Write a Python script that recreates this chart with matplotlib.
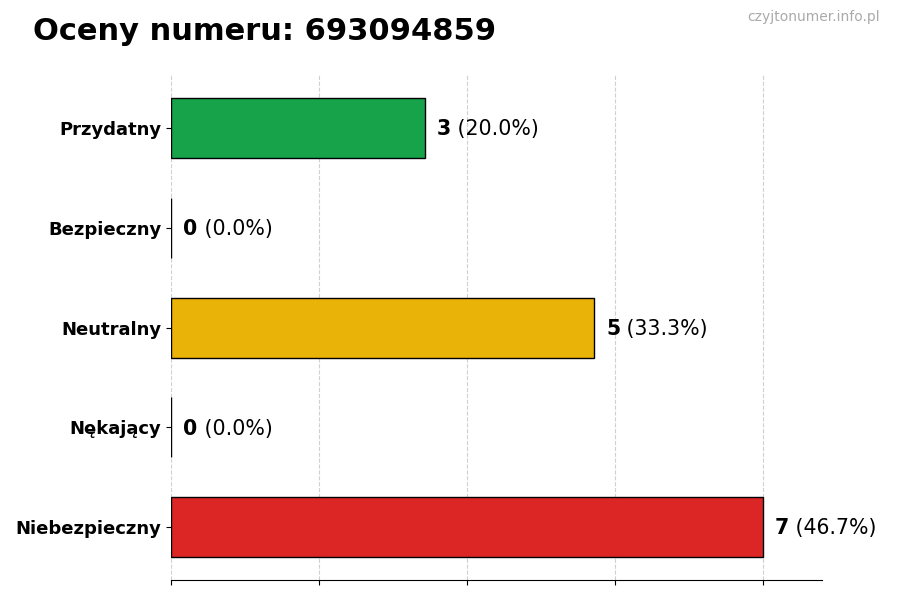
import matplotlib
matplotlib.use("Agg")
import matplotlib.pyplot as plt

categories = ["Przydatny", "Bezpieczny", "Neutralny", "Nękający", "Niebezpieczny"]
counts = [3, 0, 5, 0, 7]
colors = ["#16a34a", "#3b82f6", "#eab308", "#f97316", "#dc2626"]
title = "Oceny numeru: 693094859"
watermark = "czyjtonumer.info.pl"

total = sum(counts)
fig = plt.figure(figsize=(9, 6), dpi=100)
ax = fig.add_axes([0.19, 0.033, 0.723, 0.842])

ypos = list(range(len(categories)))[::-1]
ax.barh(ypos, counts, height=0.6, color=colors, edgecolor="black", linewidth=1, zorder=2)
ax.set_yticks(ypos)
ax.set_yticklabels(categories, fontsize=13, fontweight="bold")
xmax = max(counts) * 1.1
ax.set_xlim(0, xmax)
ax.set_xticks([max(counts) * i / 4 for i in range(5)])
ax.set_xticklabels([])
ax.grid(axis="x", linestyle="--", color="#d0d0d0", linewidth=0.8, zorder=0)
ax.set_axisbelow(True)
for s in ["top", "right", "left"]:
    ax.spines[s].set_visible(False)

for y, c in zip(ypos, counts):
    pct = 100 * c / total
    t = ax.annotate(f"{c}", xy=(c, y), xytext=(9, -0.8), textcoords="offset points",
                    ha="left", va="center", fontsize=14.8, fontweight="bold")
    ax.annotate(f" ({pct:.1f}%)", xycoords=t, xy=(1, 0.5), ha="left", va="center", fontsize=14.8)

fig.text(0.037, 0.948, title, fontsize=22, fontweight="bold", ha="left", va="center")
fig.text(0.978, 0.971, watermark, fontsize=10, color="#aaaaaa", ha="right", va="center")

fig.savefig("out.png", dpi=100)
